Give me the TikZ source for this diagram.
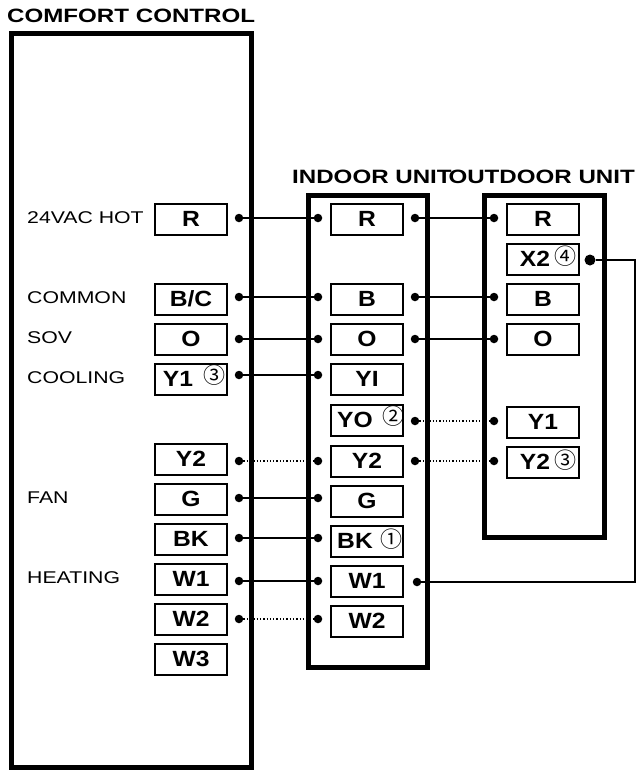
\documentclass[tikz,border=0pt]{standalone}
\usepackage{fontspec}
\setmainfont[FakeStretch=1.25]{Liberation Sans}
\newfontfamily\termfont[FakeStretch=1.12]{Liberation Sans}
\newfontfamily\circfont{Noto Sans CJK JP}
\usetikzlibrary{calc}

\begin{document}
\begin{tikzpicture}[x=1pt, y=-1pt,
    unit/.style={rectangle, draw, line width=5pt, inner sep=0pt},
    term/.style={rectangle, draw, line width=2pt, minimum width=72pt, minimum height=31pt,
        inner sep=0pt, font=\fontsize{22}{22}\termfont\bfseries},
    tag/.style={inner sep=0pt, font=\fontsize{17}{17}\selectfont, anchor=west},
    head/.style={inner sep=0pt, font=\fontsize{19.3}{20}\bfseries},
    note/.style={inner sep=0pt, font=\fontsize{22}{22}\circfont},
    dot/.style={circle, fill, inner sep=0pt, minimum size=8.5pt},
    bigdot/.style={circle, fill, inner sep=0pt, minimum size=11pt},
    wire/.style={line width=1.3pt},
    dotwire/.style={line width=1.3pt, dotted}]

    \useasboundingbox (0,0) rectangle (636,771);

    % frames
    \node[unit, minimum width=240pt, minimum height=734pt] (Comfort) at (131,400) {};
    \node[unit, minimum width=119pt, minimum height=472pt] (Indoor) at (367.5,431) {};
    \node[unit, minimum width=120pt, minimum height=342pt] (Outdoor) at (544,366) {};
    \node[head, anchor=west] (ComfortT) at (7,16) {COMFORT CONTROL};
    \node[head, anchor=west] (IndoorT) at (292,177) {INDOOR UNIT};
    \node[head, anchor=east] (OutdoorT) at (635,177) {OUTDOOR UNIT};

    % comfort control terminals
    \node[tag] (Hot) at (27,218) {24VAC HOT};
    \node[tag] (Common) at (27,298) {COMMON};
    \node[tag] (Sov) at (27,338) {SOV};
    \node[tag] (Cooling) at (27,378) {COOLING};
    \node[tag] (Fan) at (27,498) {FAN};
    \node[tag] (Heating) at (27,578) {HEATING};
    \node[term] (CR) at (191,219) {R};
    \node[term] (CB) at (191,299) {B/C};
    \node[term] (CO) at (191,339) {O};
    \node[term] (CYa) at (191,379) {\hspace{-26pt}Y1};
    \node[note] (NoteC) at (214,375) {③};
    \node[term] (CYb) at (191,459) {Y2};
    \node[term] (CG) at (191,499) {G};
    \node[term] (CK) at (191,539) {BK};
    \node[term] (CWa) at (191,579) {W1};
    \node[term] (CWb) at (191,619) {W2};
    \node[term] (CWc) at (191,659) {W3};

    % indoor unit terminals
    \node[term] (IR) at (367,219) {R};
    \node[term] (IB) at (367,299) {B};
    \node[term] (IO) at (367,339) {O};
    \node[term] (IYI) at (367,379) {YI};
    \node[term] (IYO) at (367,420) {\hspace{-24pt}YO};
    \node[note] (NoteY) at (393,416) {②};
    \node[term] (IYb) at (367,461) {Y2};
    \node[term] (IG) at (367,501) {G};
    \node[term] (IK) at (367,541) {\hspace{-24pt}BK};
    \node[note] (NoteK) at (391,539) {①};
    \node[term] (IWa) at (367,581) {W1};
    \node[term] (IWb) at (367,621) {W2};

    % outdoor unit terminals
    \node[term] (OR) at (543,219) {R};
    \node[term] (OX) at (543,259) {\hspace{-16pt}X2};
    \node[note] (NoteX) at (565,256) {④};
    \node[term] (OB) at (543,299) {B};
    \node[term] (OO) at (543,339) {O};
    \node[term] (OYa) at (543,422) {Y1};
    \node[term] (OYb) at (543,462) {\hspace{-16pt}Y2};
    \node[note] (NoteB) at (565,460) {③};

    % dots
    \node[dot] (a1) at (239,218) {};
    \node[dot] (a2) at (239,297) {};
    \node[dot] (a3) at (239,339) {};
    \node[dot] (a4) at (239,375) {};
    \node[dot] (a5) at (239,461) {};
    \node[dot] (a6) at (239,498) {};
    \node[dot] (a7) at (239,538) {};
    \node[dot] (a8) at (239,581) {};
    \node[dot] (a9) at (239,619) {};
    \node[dot] (b1) at (318,218) {};
    \node[dot] (b2) at (318,297) {};
    \node[dot] (b3) at (318,339) {};
    \node[dot] (b4) at (318,375) {};
    \node[dot] (b5) at (318,461) {};
    \node[dot] (b6) at (318,498) {};
    \node[dot] (b7) at (318,538) {};
    \node[dot] (b8) at (318,581) {};
    \node[dot] (b9) at (318,619) {};
    \node[dot] (c1) at (415,218) {};
    \node[dot] (c2) at (415,297) {};
    \node[dot] (c3) at (415,339) {};
    \node[dot] (c4) at (415,421) {};
    \node[dot] (c5) at (415,461) {};
    \node[dot] (c6) at (417,582) {};
    \node[dot] (d1) at (494,218) {};
    \node[dot] (d2) at (494,297) {};
    \node[dot] (d3) at (494,339) {};
    \node[dot] (d4) at (494,421) {};
    \node[dot] (d5) at (494,461) {};
    \node[bigdot] (x2) at (590,260) {};

    % wires
    \draw[wire] (a1) -- (b1);
    \draw[wire] (a2) -- (b2);
    \draw[wire] (a3) -- (b3);
    \draw[wire] (a4) -- (b4);
    \draw[dotwire] (a5) -- (b5);
    \draw[wire] (a6) -- (b6);
    \draw[wire] (a7) -- (b7);
    \draw[wire] (a8) -- (b8);
    \draw[dotwire] (a9) -- (b9);
    \draw[wire] (c1) -- (d1);
    \draw[wire] (c2) -- (d2);
    \draw[wire] (c3) -- (d3);
    \draw[dotwire] (c4) -- (d4);
    \draw[dotwire] (c5) -- (d5);
    \coordinate (turn) at (635,260);
    \draw[wire] (x2) -- (turn) |- (c6);
\end{tikzpicture}
\end{document}
